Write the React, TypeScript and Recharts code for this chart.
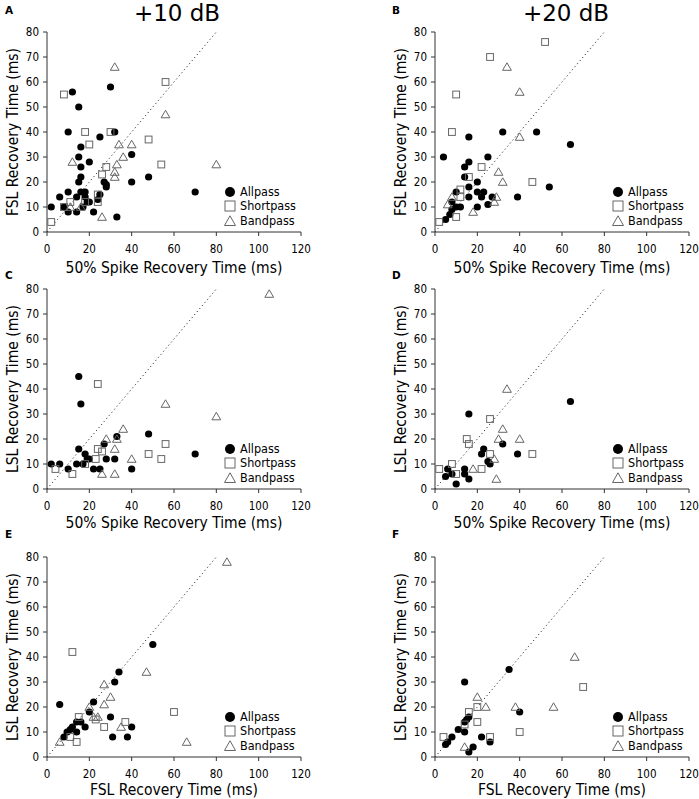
import React from 'react';
import { ScatterChart, Scatter, XAxis, YAxis, ReferenceLine, Legend } from 'recharts';

const FONT = "'DejaVu Sans Condensed', 'DejaVu Sans', sans-serif";
const TITLE_FONT = "'DejaVu Sans', sans-serif";

const X_TICKS = [0, 20, 40, 60, 80, 100, 120];
const X_MINOR = [10, 30, 50, 70, 90, 110];
const Y_TICKS = [0, 10, 20, 30, 40, 50, 60, 70, 80];
const Y_MINOR = [5, 15, 25, 35, 45, 55, 65, 75];
const SERIES_NAMES = ['Allpass', 'Shortpass', 'Bandpass'];
const TITLES = ['+10 dB', '+20 dB'];
const X_LABEL_SPIKE = '50% Spike Recovery Time (ms)';
const X_LABEL_FSL = 'FSL Recovery Time (ms)';
const Y_LABEL_FSL = 'FSL Recovery Time (ms)';
const Y_LABEL_LSL = 'LSL Recovery Time (ms)';

type Pt = [number, number];

// A: +10 dB, FSL vs 50% spike
const A_ALL: Pt[] = [[2, 10], [6, 14], [8, 10], [10, 16], [10, 8], [10, 40], [12, 56], [15, 50], [15, 30], [15, 20], [14, 8], [14, 14], [16, 34], [16, 26], [16, 22], [16, 16], [17, 10], [18, 16], [18, 14], [19, 12], [20, 28], [20, 12], [22, 8], [25, 38], [25, 15], [24, 13], [30, 58], [27, 20], [28, 19], [28, 18], [32, 40], [33, 6], [40, 31], [40, 20], [48, 22], [70, 16]];
const A_SHORT: Pt[] = [[2, 4], [8, 55], [8, 10], [11, 12], [18, 40], [20, 35], [24, 15], [24, 12], [26, 23], [28, 26], [30, 40], [48, 37], [54, 27], [56, 60], [18, 12]];
const A_BAND: Pt[] = [[12, 28], [11, 10], [16, 10], [26, 6], [32, 66], [32, 22], [32, 24], [33, 27], [34, 35], [36, 30], [40, 35], [56, 47], [80, 27]];

// B: +20 dB, FSL vs 50% spike
const B_ALL: Pt[] = [[4, 30], [5, 5], [7, 7], [8, 9], [8, 12], [10, 16], [10, 10], [12, 10], [14, 26], [14, 22], [16, 38], [16, 28], [16, 18], [16, 14], [20, 20], [20, 10], [20, 16], [22, 14], [23, 16], [25, 30], [25, 11], [27, 14], [32, 40], [39, 14], [48, 40], [64, 35], [54, 18]];
const B_SHORT: Pt[] = [[2, 4], [8, 40], [10, 55], [10, 6], [12, 17], [16, 22], [22, 26], [26, 70], [46, 20], [52, 76], [12, 14]];
const B_BAND: Pt[] = [[6, 11], [8, 14], [18, 8], [30, 24], [32, 20], [34, 66], [40, 56], [40, 38], [28, 12], [29, 14]];

// C: +10 dB, LSL vs 50% spike
const C_ALL: Pt[] = [[2, 10], [6, 10], [10, 8], [14, 10], [15, 45], [16, 34], [15, 16], [17, 10], [18, 14], [19, 12], [20, 12], [22, 8], [25, 8], [27, 18], [28, 12], [33, 21], [32, 12], [40, 8], [48, 22], [70, 14]];
const C_SHORT: Pt[] = [[4, 8], [12, 6], [18, 10], [23, 12], [24, 42], [24, 16], [26, 15], [48, 14], [54, 12], [56, 18]];
const C_BAND: Pt[] = [[26, 6], [28, 20], [32, 16], [32, 6], [33, 20], [36, 24], [40, 12], [56, 34], [80, 29], [105, 78]];

// D: +20 dB, LSL vs 50% spike
const D_ALL: Pt[] = [[5, 5], [6, 8], [8, 6], [10, 2], [14, 8], [14, 6], [16, 4], [16, 30], [22, 14], [23, 16], [25, 11], [26, 10], [32, 18], [39, 14], [64, 35]];
const D_SHORT: Pt[] = [[2, 8], [8, 10], [10, 6], [15, 20], [16, 18], [22, 8], [26, 28], [26, 14], [46, 14]];
const D_BAND: Pt[] = [[18, 8], [28, 12], [29, 4], [30, 20], [32, 24], [34, 40], [40, 20]];

// E: +10 dB, LSL vs FSL
const E_ALL: Pt[] = [[6, 21], [8, 8], [9.5, 10], [11, 11], [12, 12], [14, 14], [14, 10], [16, 14], [18, 12], [20, 18], [22, 22], [30, 16], [32, 30], [34, 34], [31, 8], [38, 8], [40, 12], [50, 45]];
const E_SHORT: Pt[] = [[12, 42], [11, 8], [14, 6], [15, 16], [23, 15], [27, 12], [37, 14], [60, 18]];
const E_BAND: Pt[] = [[6, 6], [20, 20], [22, 16], [24, 16], [27, 21], [27, 29], [30, 24], [35, 12], [47, 34], [66, 6], [85, 78]];

// F: +20 dB, LSL vs FSL
const F_ALL: Pt[] = [[5, 5], [6, 6], [8, 8], [11, 11], [14, 10], [14, 14], [14, 30], [15, 15], [16, 16], [16, 2], [18, 4], [22, 8], [26, 6], [35, 35], [40, 18]];
const F_SHORT: Pt[] = [[4, 8], [14, 13], [16, 18], [20, 20], [20, 14], [26, 8], [40, 10], [70, 28]];
const F_BAND: Pt[] = [[14, 4], [20, 24], [24, 20], [38, 20], [56, 20], [66, 40]];

const toData = (pts: Pt[]) => pts.map(([x, y]) => ({ x, y }));

const Dot = (p: any) => <circle cx={p.cx} cy={p.cy} r={3.6} fill="#000" />;
const Box = (p: any) => (
  <rect x={p.cx - 3.4} y={p.cy - 3.4} width={6.8} height={6.8} fill="none" stroke="#666" strokeWidth={1} />
);
const Tri = (p: any) => (
  <path
    d={`M${p.cx},${p.cy - 4.2} L${p.cx + 4.4},${p.cy + 3.3} L${p.cx - 4.4},${p.cy + 3.3} Z`}
    fill="none"
    stroke="#666"
    strokeWidth={1}
  />
);

const legendIcon = (name: string) => {
  if (name === 'Allpass') return <circle cx={6} cy={6} r={5} fill="#000" />;
  if (name === 'Shortpass') return <rect x={1} y={1} width={10} height={10} fill="none" stroke="#666" />;
  return <path d="M6,0.8 L11.5,10.5 L0.5,10.5 Z" fill="none" stroke="#666" />;
};

const LegendBox = (props: any) => {
  const items = [...(props.payload || [])].sort(
    (a: any, b: any) => SERIES_NAMES.indexOf(a.value) - SERIES_NAMES.indexOf(b.value),
  );
  return (
    <div style={{ fontFamily: FONT, fontSize: 12.5, color: '#000' }}>
      {items.map((entry: any) => (
        <div key={entry.value} style={{ display: 'flex', alignItems: 'center', height: 14.3 }}>
          <svg width={12} height={12} style={{ overflow: 'visible' }}>
            {legendIcon(entry.value)}
          </svg>
          <span style={{ marginLeft: 4, lineHeight: '14px' }}>{entry.value}</span>
        </div>
      ))}
    </div>
  );
};

const tickStyle = { fill: '#000', fontSize: 11.5, fontFamily: FONT };
const labelStyle = { fill: '#000', fontSize: 15.5, fontFamily: FONT };

function Panel({ left, top, width, right, xLabel, yLabel, labelDy, all, short, band }: any) {
  return (
    <div style={{ position: 'absolute', left, top }}>
      <ScatterChart width={width} height={280} margin={{ top: 32, right, bottom: 0, left: 0 }}>
        <XAxis
          type="number"
          dataKey="x"
          domain={[0, 120]}
          ticks={X_TICKS}
          interval={0}
          height={48}
          tickSize={4}
          tickMargin={9}
          stroke="#333"
          tick={tickStyle}
          label={{ value: xLabel, position: 'center', dy: labelDy, ...labelStyle }}
        />
        <YAxis
          type="number"
          dataKey="y"
          domain={[0, 80]}
          ticks={Y_TICKS}
          interval={0}
          width={47}
          tickSize={4}
          tickMargin={4}
          stroke="#333"
          tick={tickStyle}
          label={{ value: yLabel, angle: -90, position: 'center', dx: -11, ...labelStyle }}
        />
        <XAxis xAxisId="m" type="number" domain={[0, 120]} ticks={X_MINOR} interval={0} mirror height={1} tick={false} axisLine={false} tickSize={3} stroke="#333" />
        <YAxis yAxisId="m" type="number" domain={[0, 80]} ticks={Y_MINOR} interval={0} mirror width={1} tick={false} axisLine={false} tickSize={3} stroke="#333" />
        <ReferenceLine segment={[{ x: 0, y: 0 }, { x: 80, y: 80 }]} stroke="#333" strokeDasharray="1.2 2.8" />
        <Scatter name={SERIES_NAMES[0]} data={toData(all)} shape={Dot} isAnimationActive={false} />
        <Scatter name={SERIES_NAMES[1]} data={toData(short)} shape={Box} isAnimationActive={false} />
        <Scatter name={SERIES_NAMES[2]} data={toData(band)} shape={Tri} isAnimationActive={false} />
        <Legend
          layout="vertical"
          align="center"
          verticalAlign="middle"
          content={LegendBox}
          wrapperStyle={{ left: 224, top: 185, width: 'auto', height: 'auto' }}
        />
      </ScatterChart>
    </div>
  );
}

const letterStyle: React.CSSProperties = {
  position: 'absolute',
  fontFamily: TITLE_FONT,
  fontWeight: 'bold',
  fontSize: 10.5,
  lineHeight: '10.5px',
};

const titleStyle: React.CSSProperties = {
  position: 'absolute',
  fontFamily: TITLE_FONT,
  fontSize: 23,
  lineHeight: '26px',
  width: 200,
  textAlign: 'center',
  top: 0,
};

export default function App() {
  return (
    <div style={{ position: 'absolute', left: 0, top: 0, width: 699, height: 799, background: '#fff', overflow: 'hidden' }}>
      <Panel left={0} top={0} width={340} right={39} labelDy={11} xLabel={X_LABEL_SPIKE} yLabel={Y_LABEL_FSL} all={A_ALL} short={A_SHORT} band={A_BAND} />
      <Panel left={388} top={0} width={311} right={10} labelDy={11} xLabel={X_LABEL_SPIKE} yLabel={Y_LABEL_FSL} all={B_ALL} short={B_SHORT} band={B_BAND} />
      <Panel left={0} top={257} width={340} right={39} labelDy={9} xLabel={X_LABEL_SPIKE} yLabel={Y_LABEL_LSL} all={C_ALL} short={C_SHORT} band={C_BAND} />
      <Panel left={388} top={257} width={311} right={10} labelDy={9} xLabel={X_LABEL_SPIKE} yLabel={Y_LABEL_LSL} all={D_ALL} short={D_SHORT} band={D_BAND} />
      <Panel left={0} top={525} width={340} right={39} labelDy={8} xLabel={X_LABEL_FSL} yLabel={Y_LABEL_LSL} all={E_ALL} short={E_SHORT} band={E_BAND} />
      <Panel left={388} top={525} width={311} right={10} labelDy={8} xLabel={X_LABEL_FSL} yLabel={Y_LABEL_LSL} all={F_ALL} short={F_SHORT} band={F_BAND} />
      <div style={{ ...titleStyle, left: 77 }}>{TITLES[0]}</div>
      <div style={{ ...titleStyle, left: 466 }}>{TITLES[1]}</div>
      <div style={{ ...letterStyle, left: 5, top: 5 }}>A</div>
      <div style={{ ...letterStyle, left: 392, top: 5 }}>B</div>
      <div style={{ ...letterStyle, left: 5, top: 270 }}>C</div>
      <div style={{ ...letterStyle, left: 392, top: 270 }}>D</div>
      <div style={{ ...letterStyle, left: 5, top: 529 }}>E</div>
      <div style={{ ...letterStyle, left: 392, top: 529 }}>F</div>
    </div>
  );
}
